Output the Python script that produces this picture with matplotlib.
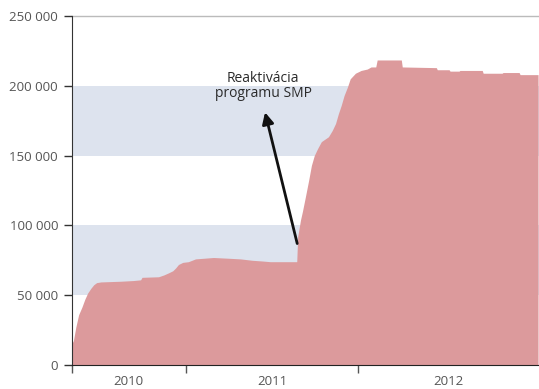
import matplotlib
matplotlib.use("Agg")
import matplotlib.pyplot as plt
import pandas as pd
from matplotlib.ticker import FuncFormatter

plt.rcParams['font.family'] = ['Open Sans', 'DejaVu Sans']

# SMP holdings (EUR millions)
dates = ["2010-05-06", "2010-05-09", "2010-05-14", "2010-05-20", "2010-05-27", "2010-06-02",
         "2010-06-08", "2010-06-15", "2010-06-21", "2010-06-27", "2010-07-06",
         "2010-08-17", "2010-09-13", "2010-09-28", "2010-10-01", "2010-11-05",
         "2010-11-16", "2010-11-26", "2010-12-05", "2010-12-11", "2010-12-17",
         "2010-12-26", "2011-01-07", "2011-01-22", "2011-03-01", "2011-03-31",
         "2011-04-27", "2011-05-22", "2011-06-12", "2011-06-29", "2011-08-24",
         "2011-08-26", "2011-09-01", "2011-09-05", "2011-09-11", "2011-09-18",
         "2011-09-24", "2011-09-30", "2011-10-07", "2011-10-15", "2011-10-30",
         "2011-11-07", "2011-11-14", "2011-11-20", "2011-11-26", "2011-12-02",
         "2011-12-09", "2011-12-15", "2011-12-26", "2012-01-07", "2012-01-20",
         "2012-01-28", "2012-02-07", "2012-02-10", "2012-04-01", "2012-04-03",
         "2012-06-14", "2012-06-16", "2012-07-11", "2012-07-13", "2012-08-01",
         "2012-08-03", "2012-09-19", "2012-09-21", "2012-10-31", "2012-11-02",
         "2012-12-06", "2012-12-08", "2013-01-15"]
values = [15500, 17500, 27000, 36000, 41500, 47000,
          51500, 55000, 57500, 59000, 59500,
          60000, 60500, 61000, 62800, 63200,
          64500, 66000, 67500, 69500, 72000,
          73500, 74000, 76000, 77000, 76500,
          76000, 75000, 74500, 74000, 74000,
          92000, 104000, 110000, 120000, 132000,
          143000, 150000, 155000, 160000, 163500,
          168000, 173000, 180000, 186000, 193000,
          199000, 205000, 209000, 211000, 212000,
          213500, 213500, 218500, 218500, 213500,
          213000, 211500, 211500, 210500, 210500,
          211000, 211000, 209000, 209000, 209500,
          209500, 208000, 208000]

year_labels = ["2010", "2011", "2012"]
year_bounds = ["2010-05-06", "2011-01-01", "2012-01-01", "2013-01-17"]
y_ticks = [0, 50000, 100000, 150000, 200000, 250000]
bands = [(50000, 100000), (150000, 200000)]
annotation = "Reaktivácia\nprogramu SMP"

x = pd.to_datetime(dates)
xb = pd.to_datetime(year_bounds)

fig = plt.figure(figsize=(5.39, 3.89), dpi=100)
ax = fig.add_axes([72/539, 1-365/389, 1-72/539, (365-16)/389])

for lo, hi in bands:
    ax.axhspan(lo, hi, color='#dde3ee', lw=0, zorder=0)
ax.axhline(250000, color='#bbbbbb', lw=1.0, zorder=0.5, clip_on=False)

ax.fill_between(x, values, 0, color='#dc9a9c', lw=0, zorder=2)

ax.set_xlim(xb[0], xb[-1])
ax.set_ylim(0, 250000)

ax.set_yticks(y_ticks)
ax.yaxis.set_major_formatter(FuncFormatter(lambda v, p: f"{int(v):,}".replace(",", " ")))
ax.tick_params(axis='y', length=6, width=1, color='#333333', labelcolor='#555555',
               labelsize=9.5, pad=4)

ax.set_xticks(list(xb[:-1]))
ax.set_xticklabels([])
mids = [xb[i] + (xb[i+1] - xb[i]) / 2 for i in range(3)]
ax.set_xticks(mids, minor=True)
ax.set_xticklabels(year_labels, minor=True)
ax.tick_params(axis='x', which='major', length=6, width=1, color='#555555')
ax.tick_params(axis='x', which='minor', length=0, labelcolor='#555555',
               labelsize=9.5, pad=7)

for s in ['top', 'right']:
    ax.spines[s].set_visible(False)
ax.spines['left'].set_color('#333333')
ax.spines['bottom'].set_color('#222222')
ax.spines['left'].set_zorder(3)
ax.spines['bottom'].set_zorder(3)

ax.annotate("",
            xy=(pd.Timestamp("2011-06-18"), 181000),
            xytext=(pd.Timestamp("2011-08-25"), 87000),
            arrowprops=dict(arrowstyle='-|>', color='#111111', lw=2,
                            mutation_scale=17, shrinkA=0, shrinkB=0),
            zorder=5)
ax.text(pd.Timestamp("2011-06-14"), 200000, annotation, ha='center', va='center',
        fontsize=10, color='#2a2a2a', linespacing=1.05, zorder=5)

fig.savefig("out.png", dpi=100)
